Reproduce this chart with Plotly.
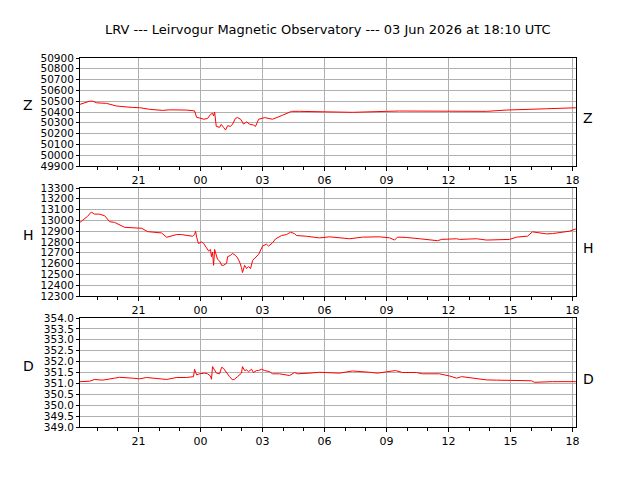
import plotly.graph_objects as go
import pandas as pd

# hours relative to 2026-06-03 00:00 UTC
z_hours = [-5.83, -5.37, -5.22, -5.03, -4.55, -4.06, -3.29, -2.95, -2.47, -1.84, -1.50, -0.68, -0.29,
           -0.19, -0.05, 0.15, 0.34, 0.48, 0.58, 0.63, 0.68, 0.76, 0.92, 1.00, 1.11, 1.21, 1.31, 1.45,
           1.55, 1.69, 1.79, 1.94, 2.08, 2.23, 2.37, 2.56, 2.66, 2.81, 3.10, 3.34, 3.48, 3.97, 4.40,
           4.79, 5.76, 7.35, 9.00, 9.63, 13.84, 14.80, 16.74, 18.16]
z_vals = [50471, 50500, 50500, 50485, 50480, 50455, 50442, 50440, 50425, 50415, 50420, 50418, 50410,
          50350, 50345, 50333, 50340, 50378, 50388, 50364, 50400, 50267, 50258, 50285, 50258, 50233,
          50273, 50267, 50288, 50342, 50348, 50333, 50288, 50309, 50288, 50279, 50267, 50333, 50348,
          50339, 50333, 50370, 50406, 50406, 50403, 50397, 50406, 50409, 50406, 50418, 50430, 50439]

h_hours = [-5.83, -5.61, -5.47, -5.29, -5.13, -4.89, -4.64, -4.40, -4.16, -3.68, -3.29, -2.85, -2.56,
           -2.13, -1.89, -1.64, -1.50, -1.16, -0.92, -0.63, -0.39, -0.29, -0.24, -0.19, -0.15, -0.10,
           0.05, 0.15, 0.29, 0.39, 0.48, 0.53, 0.58, 0.63, 0.68, 0.77, 0.82, 0.92, 1.02, 1.11, 1.26,
           1.31, 1.45, 1.55, 1.69, 1.79, 1.89, 1.98, 2.03, 2.13, 2.23, 2.32, 2.42, 2.52, 2.66, 2.81,
           3.00, 3.19, 3.29, 3.48, 3.63, 3.92, 4.16, 4.35, 4.55, 4.64, 5.13, 5.76, 6.24, 7.21, 7.84,
           8.66, 9.14, 9.39, 9.53, 9.97, 10.60, 11.47, 11.66, 12.39, 12.53, 13.35, 13.84, 14.95, 15.29,
           15.82, 16.06, 16.40, 16.74, 17.03, 17.37, 17.85, 18.16]
h_vals = [12982, 13012, 13037, 13077, 13058, 13058, 13043, 12988, 12982, 12936, 12933, 12927, 12896,
          12884, 12884, 12844, 12853, 12869, 12869, 12863, 12853, 12869, 12899, 12844, 12823, 12786,
          12801, 12786, 12746, 12716, 12731, 12664, 12707, 12584, 12731, 12664, 12640, 12624, 12584,
          12584, 12603, 12664, 12676, 12694, 12676, 12652, 12615, 12563, 12517, 12584, 12554, 12572,
          12554, 12630, 12655, 12685, 12762, 12780, 12762, 12792, 12829, 12860, 12869, 12890, 12878,
          12860, 12853, 12838, 12848, 12830, 12845, 12848, 12839, 12818, 12845, 12842, 12830, 12812,
          12824, 12830, 12824, 12830, 12818, 12824, 12845, 12854, 12894, 12884, 12875, 12878, 12890,
          12900, 12921]

d_hours = [-5.83, -5.37, -5.13, -4.74, -4.16, -3.92, -3.29, -2.95, -2.61, -2.13, -1.64, -1.16, -0.68,
           -0.34, -0.29, -0.19, -0.05, 0.19, 0.34, 0.48, 0.53, 0.58, 0.68, 0.77, 0.92, 1.02, 1.11,
           1.21, 1.40, 1.55, 1.64, 1.79, 1.98, 2.03, 2.13, 2.23, 2.32, 2.47, 2.56, 2.71, 2.81, 2.95,
           3.10, 3.34, 3.48, 3.82, 4.31, 4.55, 4.69, 5.27, 5.76, 6.72, 7.06, 7.35, 8.18, 8.56, 9.00,
           9.43, 9.77, 10.45, 10.74, 11.56, 12.05, 12.39, 12.63, 13.16, 13.84, 14.32, 14.95, 15.43,
           16.01, 16.16, 17.03, 18.16]
d_vals = [351.08, 351.10, 351.18, 351.15, 351.24, 351.28, 351.24, 351.21, 351.27, 351.21, 351.18,
          351.27, 351.27, 351.31, 351.65, 351.39, 351.44, 351.47, 351.44, 351.34, 351.19, 351.77,
          351.59, 351.47, 351.44, 351.74, 351.69, 351.54, 351.31, 351.16, 351.19, 351.31, 351.47,
          351.77, 351.59, 351.62, 351.54, 351.65, 351.50, 351.59, 351.59, 351.65, 351.59, 351.54,
          351.44, 351.44, 351.36, 351.50, 351.44, 351.47, 351.51, 351.47, 351.51, 351.57, 351.51,
          351.47, 351.53, 351.59, 351.50, 351.50, 351.44, 351.44, 351.34, 351.24, 351.31, 351.24,
          351.16, 351.15, 351.13, 351.12, 351.12, 351.05, 351.08, 351.08]

z_ticks = [49900, 50000, 50100, 50200, 50300, 50400, 50500, 50600, 50700, 50800, 50900]
h_ticks = [12300, 12400, 12500, 12600, 12700, 12800, 12900, 13000, 13100, 13200, 13300]
d_ticks = [349.0, 349.5, 350.0, 350.5, 351.0, 351.5, 352.0, 352.5, 353.0, 353.5, 354.0]

title = "LRV --- Leirvogur Magnetic Observatory --- 03 Jun 2026 at 18:10 UTC"
base = pd.Timestamp("2026-06-03 00:00")
t_start = base + pd.Timedelta(hours=-5 - 50 / 60)
t_end = base + pd.Timedelta(hours=18 + 10 / 60)


def to_time(hours):
    return [base + pd.Timedelta(hours=h) for h in hours]


panels = [
    ("Z", z_hours, z_vals, z_ticks, "%.0f", [1 - 166 / 480, 1 - 58 / 480]),
    ("H", h_hours, h_vals, h_ticks, "%.0f", [1 - 296 / 480, 1 - 188 / 480]),
    ("D", d_hours, d_vals, d_ticks, "%.1f", [1 - 427 / 480, 1 - 318 / 480]),
]

fig = go.Figure()
font = "DejaVu Sans, Liberation Sans, sans-serif"
layout = dict(
    width=640, height=480, margin=dict(l=0, r=0, t=0, b=0, pad=0, autoexpand=False),
    paper_bgcolor="white", plot_bgcolor="white", showlegend=False,
    font=dict(family=font, color="black", size=11),
    annotations=[],
)
layout["annotations"].append(dict(text=title, x=328 / 640, y=1 - 29 / 480, xref="paper", yref="paper",
                                  xanchor="center", yanchor="middle",
                                  showarrow=False, font=dict(size=13, family=font)))
for i, (name, hrs, vals, ticks, fmt, dom) in enumerate(panels):
    n = "" if i == 0 else str(i + 1)
    fig.add_trace(go.Scatter(x=to_time(hrs), y=vals, mode="lines",
                             line=dict(color="red", width=1), xaxis="x" + n, yaxis="y" + n,
                             hoverinfo="skip"))
    layout["xaxis" + n] = dict(
        domain=[80 / 640, 576 / 640], anchor="y" + n, range=[t_start, t_end], type="date",
        tick0="2026-06-02 21:00", dtick=3 * 3600 * 1000, tickformat="%H",
        ticks="outside", ticklen=4, tickcolor="black", showline=True, linecolor="black",
        linewidth=1, mirror=True, showgrid=True, gridcolor="#b0b0b0", gridwidth=1,
        zeroline=False, tickfont=dict(size=11), automargin=False,
        minor=dict(dtick=3600 * 1000, tick0="2026-06-02 21:00", ticks="outside", ticklen=3,
                   tickcolor="black", showgrid=False),
    )
    layout["yaxis" + n] = dict(
        domain=dom, anchor="x" + n, range=[ticks[0], ticks[-1]], tickvals=ticks,
        ticktext=[fmt % t for t in ticks], ticks="outside", ticklen=3, tickcolor="black",
        showline=True, linecolor="black", linewidth=1, mirror=True, showgrid=True,
        gridcolor="#b0b0b0", gridwidth=1, zeroline=False, tickfont=dict(size=10.5),
        automargin=False,
    )
    ymid = (dom[0] + dom[1]) / 2
    layout["annotations"].append(dict(text=name, x=28 / 640, y=ymid + 0.014, xref="paper",
                                      yref="paper", xanchor="center", yanchor="middle",
                                      showarrow=False, font=dict(size=14)))
    layout["annotations"].append(dict(text=name, x=588 / 640, y=ymid - 0.0125, xref="paper",
                                      yref="paper", xanchor="center", yanchor="middle",
                                      showarrow=False, font=dict(size=14)))

fig.update_layout(**layout)
fig.write_html("out.html")
